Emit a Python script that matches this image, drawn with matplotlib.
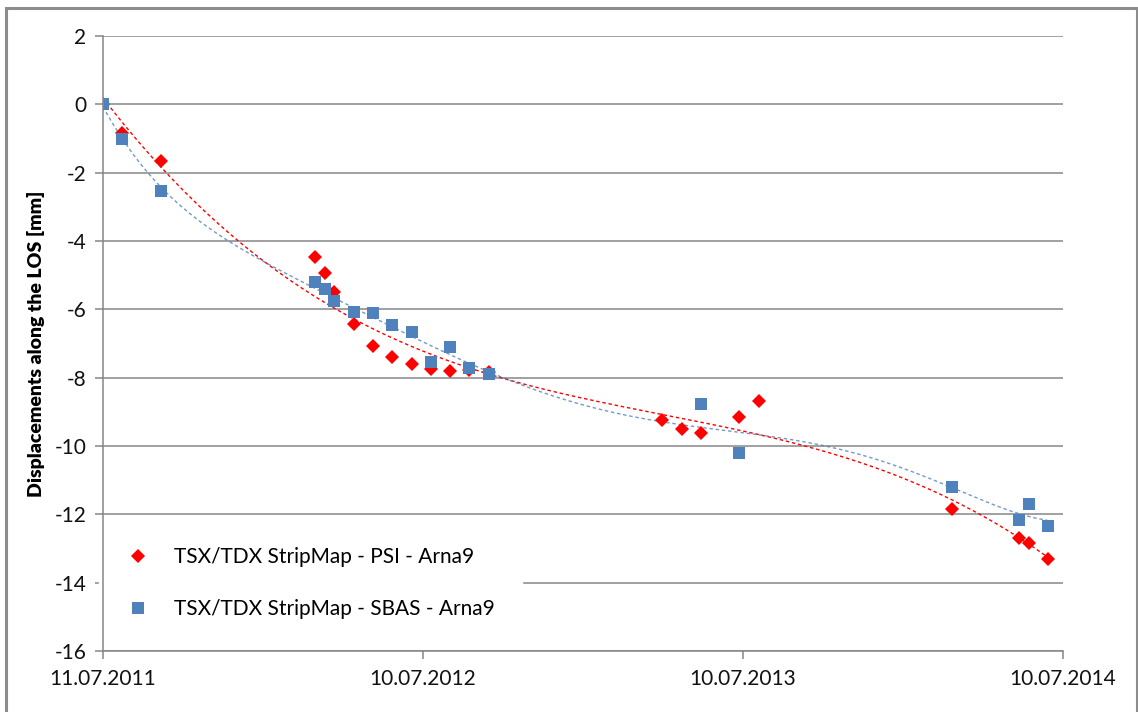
import numpy as np
import matplotlib
matplotlib.use('Agg')
import matplotlib.pyplot as plt
import matplotlib.dates as mdates
from matplotlib.patches import Rectangle

# ------ DATA (days after 11.07.2011, displacement in mm)
start = np.datetime64('2011-07-11')

psi_days = [0, 22, 66, 242, 253, 264, 286, 308, 330, 352, 374, 396, 418, 440,
            638, 660, 682, 726, 748, 968, 1045, 1056, 1078]
psi_vals = [0, -0.85, -1.65, -4.48, -4.94, -5.5, -6.43, -7.08, -7.4, -7.6, -7.75,
            -7.8, -7.78, -7.84, -9.24, -9.5, -9.62, -9.15, -8.68, -11.85, -12.69,
            -12.84, -13.3]

sbas_days = [0, 22, 66, 242, 253, 264, 286, 308, 330, 352, 374, 396, 418, 440,
             682, 726, 968, 1045, 1056, 1078]
sbas_vals = [0, -1.02, -2.55, -5.2, -5.41, -5.76, -6.08, -6.11, -6.46, -6.67, -7.54,
             -7.1, -7.72, -7.89, -8.77, -10.2, -11.2, -12.16, -11.7, -12.34]

tick_days = [0, 365, 730, 1095]
psi_label = 'TSX/TDX StripMap - PSI - Arna9'
sbas_label = 'TSX/TDX StripMap - SBAS - Arna9'

red = '#FF0000'
blue = '#4F81BD'
grid_c = '#868686'


def to_dates(days):
    return (start + np.array(days, dtype='timedelta64[D]')).astype('datetime64[s]').astype(object)


def trend(days, vals, order):
    x = np.array(days) / 1000.0
    c = np.polyfit(x, vals, order)
    xx = np.arange(min(days), max(days) + 1, 3)
    return to_dates(xx), np.polyval(c, xx / 1000.0)


plt.rcParams['font.family'] = ['Lato', 'DejaVu Sans']
plt.rcParams['axes.unicode_minus'] = False

fig = plt.figure(figsize=(11.38, 7.12), dpi=100)
fig.patches.append(Rectangle((0.005, -0.1), 0.994, 1.089, transform=fig.transFigure,
                             fill=False, edgecolor='#8C8C8C', linewidth=2.2))
ax = fig.add_axes([103/1138, 61/712, 960/1138, 615/712])

# trend lines (polynomial fit like the spreadsheet trendline)
tx, ty = trend(psi_days, psi_vals, 3)
ax.plot(tx, ty, color=red, lw=1.0, ls=(0, (2.5, 2)), zorder=2)
tx, ty = trend(sbas_days, sbas_vals, 6)
ax.plot(tx, ty, color=blue, lw=1.0, ls=(0, (2.5, 2)), alpha=0.8, zorder=2)

ax.plot(to_dates(psi_days), psi_vals, 'D', color=red, ms=7.6, mew=0, label=psi_label, zorder=3)
ax.plot(to_dates(sbas_days), sbas_vals, 's', color=blue, ms=8.6, mew=0, label=sbas_label, zorder=4)

ax.set_ylim(-16, 2)
ax.set_yticks(np.arange(-16, 3, 2))
ax.set_xlim(to_dates([0])[0], to_dates([1095])[0])
ax.set_xticks(to_dates(tick_days))
ax.xaxis.set_major_formatter(mdates.DateFormatter('%d.%m.%Y'))

ax.grid(axis='y', color=grid_c, lw=1.1)
ax.set_axisbelow(True)
for s in ['top', 'right']:
    ax.spines[s].set_visible(False)
for s in ['left', 'bottom']:
    ax.spines[s].set_color(grid_c)
    ax.spines[s].set_linewidth(1.1)
    ax.spines[s].set_zorder(10)
ax.tick_params(axis='both', colors=grid_c, length=6, width=1.1, labelcolor='#111111', labelsize=15)
ax.tick_params(axis='x', pad=7)
ax.tick_params(axis='y', pad=6)
ax.set_ylabel('Displacements along the LOS [mm]', fontsize=14, fontweight='heavy',
              color='black', labelpad=7)

leg = ax.legend(loc='lower left', bbox_to_anchor=(0.0, 0.014), frameon=True, fontsize=15,
                handletextpad=1.1, labelspacing=1.55, borderpad=0.8, borderaxespad=0.3,
                handlelength=1.2)
leg.get_frame().set_edgecolor('white')
leg.get_frame().set_facecolor('white')
leg.get_frame().set_alpha(1)
leg.get_frame().set_boxstyle('square', pad=0.5)

fig.savefig('out.png', dpi=100)
